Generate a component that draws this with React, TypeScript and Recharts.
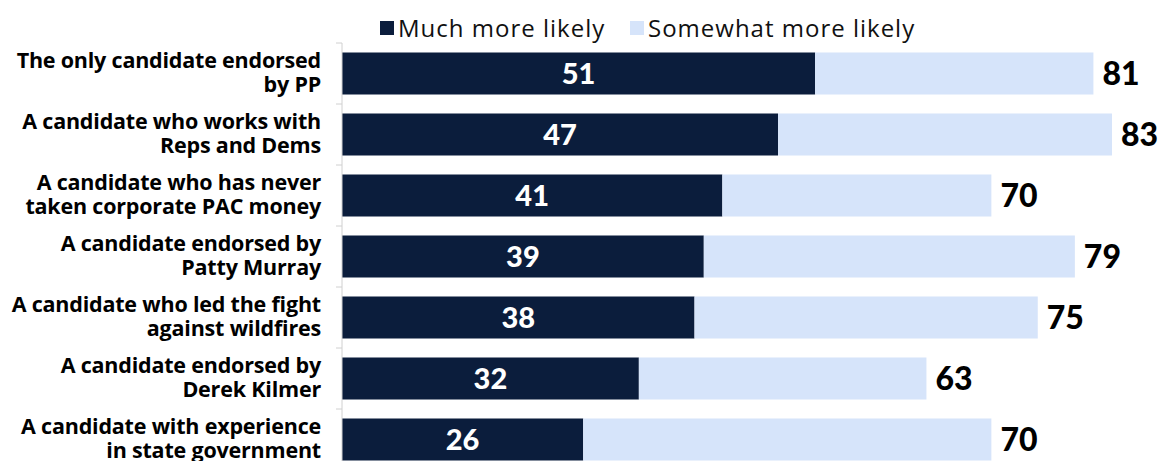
import { BarChart, Bar, XAxis, YAxis, LabelList } from 'recharts';

const categories = [
  ['The only candidate endorsed', 'by PP'],
  ['A candidate who works with', 'Reps and Dems'],
  ['A candidate who has never', 'taken corporate PAC money'],
  ['A candidate endorsed by', 'Patty Murray'],
  ['A candidate who led the fight', 'against wildfires'],
  ['A candidate endorsed by', 'Derek Kilmer'],
  ['A candidate with experience', 'in state government'],
];
const muchMoreLikely = [51, 47, 41, 39, 38, 32, 26];
const totalMoreLikely = [81, 83, 70, 79, 75, 63, 70];
const seriesNames = ['Much more likely', 'Somewhat more likely'];

const DARK = '#0b1d3c';
const LIGHT = '#d6e4fa';
const FONT = 'Lato, "Open Sans", sans-serif';
const LABEL_FONT = '"Open Sans", Lato, sans-serif';

const data = categories.map((lines, i) => ({
  name: lines.join('\n'),
  much: muchMoreLikely[i],
  somewhat: totalMoreLikely[i] - muchMoreLikely[i],
  total: totalMoreLikely[i],
}));

function CategoryTick(props: any) {
  const { x, y, payload, index } = props;
  const lines = String(payload.value).split('\n');
  const half = payload.offset || 30.5;
  return (
    <g>
      <line x1={x + 2} x2={x + 8} y1={y - half} y2={y - half} stroke="#d0d0d0" />
      {index === data.length - 1 && (
        <line x1={x + 2} x2={x + 8} y1={y + half} y2={y + half} stroke="#d0d0d0" />
      )}
      <text textAnchor="end" fontFamily={LABEL_FONT} fontWeight={700} fontSize={21.5} fill="#000" letterSpacing={-0.2}>
        {lines.map((l, i) => (
          <tspan key={i} x={x - 13} y={y - 6 + i * 24}>{l}</tspan>
        ))}
      </text>
    </g>
  );
}

function LegendBlock() {
  const colors = [DARK, LIGHT];
  return (
    <div
      style={{
        position: 'absolute',
        top: 13,
        left: 380,
        display: 'flex',
        fontFamily: LABEL_FONT,
        fontSize: 24,
        letterSpacing: 1.0,
        color: '#111',
        lineHeight: '30px',
      }}
    >
      {seriesNames.map((label, i) => (
        <div key={label} style={{ display: 'flex', alignItems: 'center', width: i === 0 ? 250 : 'auto' }}>
          <span style={{ width: 14, height: 14, background: colors[i], display: 'inline-block', marginRight: 4 }} />
          <span>{label}</span>
        </div>
      ))}
    </div>
  );
}

export default function App() {
  return (
    <div style={{ position: 'absolute', left: 0, top: 0, width: 1163, height: 461, overflow: 'hidden', background: '#fff' }}>
      <LegendBlock />
      <BarChart
        width={1163}
        height={480}
        data={data}
        layout="vertical"
        margin={{ top: 43, right: 0, bottom: 10, left: 0 }}
        barCategoryGap="15.5%"
      >
        <XAxis type="number" domain={[0, 88.5]} hide />
        <YAxis
          type="category"
          dataKey="name"
          width={342}
          axisLine={{ stroke: '#d0d0d0' }}
          tickLine={false}
          tick={<CategoryTick />}
          interval={0}
        />
        <Bar dataKey="much" name={seriesNames[0]} stackId="a" fill={DARK} isAnimationActive={false}>
          <LabelList
            dataKey="much"
            position="center"
            fill="#fff"
            fontFamily={FONT}
            fontWeight={900}
            fontSize={29}
          />
        </Bar>
        <Bar dataKey="somewhat" name={seriesNames[1]} stackId="a" fill={LIGHT} isAnimationActive={false}>
          <LabelList
            dataKey="total"
            position="right"
            offset={9}
            fill="#000"
            fontFamily={FONT}
            fontWeight={900}
            fontSize={32}
          />
        </Bar>
      </BarChart>
    </div>
  );
}
